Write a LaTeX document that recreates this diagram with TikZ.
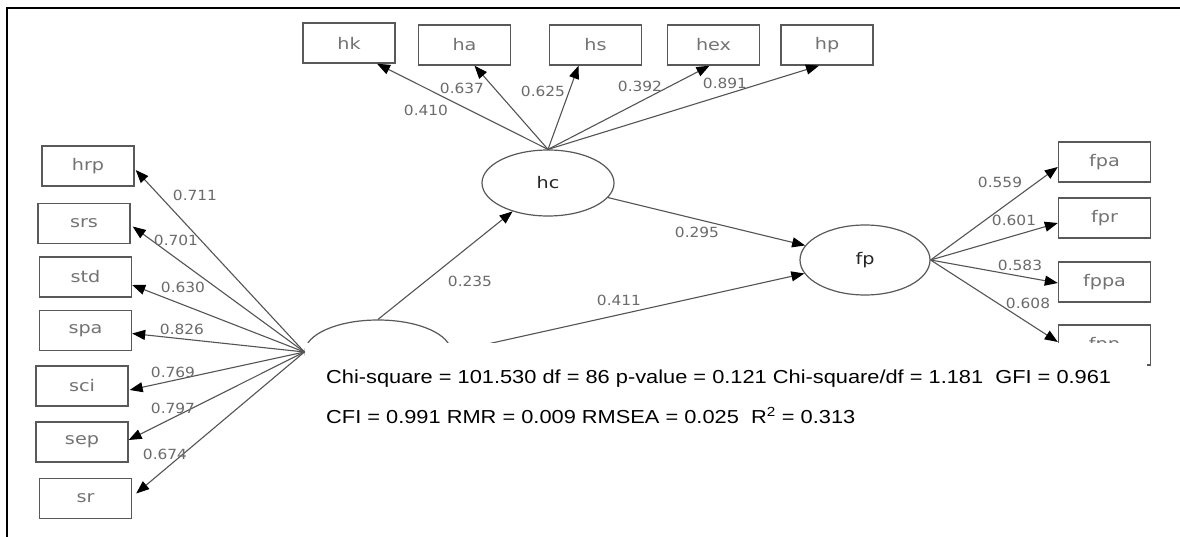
\documentclass[tikz,border=0pt]{standalone}
\usepackage{graphicx}
\usepackage{fontspec}
\setmainfont{DejaVu Sans}
\newfontfamily\statfont{Liberation Sans}
\usetikzlibrary{arrows.meta,shapes.geometric,calc}

\definecolor{boxgray}{gray}{0.35}
\definecolor{labgray}{gray}{0.45}
\definecolor{numgray}{gray}{0.42}
\definecolor{linegray}{gray}{0.33}

\newcommand\boxtxt[1]{\scalebox{1.2}[1]{#1}}
\newcommand\numtxt[1]{\scalebox{1.1}[1]{#1}}
\newcommand\stattxt[1]{\scalebox{1.16}[1]{#1}}

\begin{document}
\begin{tikzpicture}[x=1pt,y=-1pt,
  obs/.style={draw=boxgray,line width=1.4pt,minimum width=92pt,minimum height=40pt,
    inner sep=0pt,text=labgray,font=\fontsize{16}{16}\selectfont},
  latent/.style={ellipse,draw=boxgray,line width=1.2pt,inner sep=0pt,
    text=black!85,font=\fontsize{16}{16}\selectfont},
  conn/.style={draw=linegray,line width=1.1pt,
    -{Triangle[length=13pt,width=10pt,color=black]}},
  coef/.style={text=numgray,inner sep=0pt,font=\fontsize{14}{14}\selectfont},
  stat/.style={anchor=base west,inner sep=0pt,text=black,
    font=\statfont\fontsize{18.8}{18.8}\selectfont}]

\useasboundingbox (0,0) rectangle (1180,537);
\fill[white] (0,0) rectangle (1180,537);

% outer frame
\draw[line width=2.2pt] (7,537) -- (7,8) -- (1180,8);

% indicators of hc
\node[obs] (hk)  at (349,43)   {\boxtxt{hk}};
\node[obs] (ha)  at (464.5,45) {\boxtxt{ha}};
\node[obs] (hs)  at (595.5,45) {\boxtxt{hs}};
\node[obs] (hex) at (713.5,45) {\boxtxt{hex}};
\node[obs] (hp)  at (827,45)   {\boxtxt{hp}};

% indicators of the exogenous factor
\node[obs] (hrp) at (88,166)    {\boxtxt{hrp}};
\node[obs] (srs) at (84,223.5)  {\boxtxt{srs}};
\node[obs] (std) at (85.5,277)  {\boxtxt{std}};
\node[obs] (spa) at (85.5,330.5){\boxtxt{spa}};
\node[obs] (sci) at (82,386)    {\boxtxt{sci}};
\node[obs] (sep) at (82,442)    {\boxtxt{sep}};
\node[obs] (sr)  at (85.5,498.5){\boxtxt{sr}};

% indicators of fp
\node[obs] (fpa)  at (1104.5,162) {\boxtxt{fpa}};
\node[obs] (fpr)  at (1104.5,218) {\boxtxt{fpr}};
\node[obs] (fppa) at (1104.5,282) {\boxtxt{fppa}};
\node[obs] (fpp)  at (1104.5,345) {\boxtxt{fpp}};

% latent variables
\node[latent,minimum width=132pt,minimum height=66pt] (hc) at (548,183) {\boxtxt{hc}};
\node[latent,minimum width=130pt,minimum height=70pt] (fp) at (865,260) {\boxtxt{fp}};
\node[latent,minimum width=146pt,minimum height=64pt] (lat) at (378,352) {};

% loadings of hc
\draw[conn] (hc.north) -- ($(hk.south)+(28,0)$);
\draw[conn] (hc.north) -- ($(ha.south)+(10,0)$);
\draw[conn] (hc.north) -- ($(hs.south)+(-17,0)$);
\draw[conn] (hc.north) -- ($(hex.south)+(-4,0)$);
\draw[conn] (hc.north) -- ($(hp.south)+(-8,0)$);

% loadings of the exogenous factor
\draw[conn] (lat.west) -- ($(hrp.east)+(1,4)$);
\draw[conn] (lat.west) -- ($(srs.east)+(2,3)$);
\draw[conn] (lat.west) -- ($(std.east)+(0,8)$);
\draw[conn] (lat.west) -- ($(spa.east)+(0,3)$);
\draw[conn] (lat.west) -- ($(sci.east)+(1,4)$);
\draw[conn] (lat.west) -- ($(sep.east)+(0,-2)$);
\draw[conn] (lat.west) -- ($(sr.east)+(4,-5)$);

% loadings of fp
\draw[conn] (fp.east) -- ($(fpa.west)+(0,5)$);
\draw[conn] (fp.east) -- ($(fpr.west)+(0,5)$);
\draw[conn] (fp.east) -- ($(fppa.west)+(0,1)$);
\draw[conn] (fp.east) -- ($(fpp.west)+(0,-3)$);

% structural paths
\draw[conn] (lat.north) -- (hc);
\draw[conn] (hc) -- (fp);
\draw[conn] (lat.east) -- (fp);

% coefficients
\node[coef] at (426,110) {\numtxt{0.410}};
\node[coef] at (462,88)  {\numtxt{0.637}};
\node[coef] at (543,91)  {\numtxt{0.625}};
\node[coef] at (640,86)  {\numtxt{0.392}};
\node[coef] at (725,83)  {\numtxt{0.891}};

\node[coef] at (697,232) {\numtxt{0.295}};
\node[coef] at (470,281) {\numtxt{0.235}};
\node[coef] at (619,300) {\numtxt{0.411}};

\node[coef] at (1000,182) {\numtxt{0.559}};
\node[coef] at (1014,220) {\numtxt{0.601}};
\node[coef] at (1020,265) {\numtxt{0.583}};
\node[coef] at (1028,303) {\numtxt{0.608}};

\node[coef] at (195,195) {\numtxt{0.711}};
\node[coef] at (176,240) {\numtxt{0.701}};
\node[coef] at (183,287) {\numtxt{0.630}};
\node[coef] at (182,329) {\numtxt{0.826}};
\node[coef] at (173,372) {\numtxt{0.769}};
\node[coef] at (173,408) {\numtxt{0.797}};
\node[coef] at (165,454) {\numtxt{0.674}};

% fit statistics panel
\fill[white] (305,343) rectangle (1147,537);
\node[stat] (fit1) at (326,383)
  {\stattxt{Chi-square = 101.530 df = 86 p-value = 0.121 Chi-square/df = 1.181 \ GFI = 0.961}};
\node[stat] (fit2) at (326,423)
  {\stattxt{CFI = 0.991 RMR = 0.009 RMSEA = 0.025 \ R\textsuperscript{2} = 0.313}};

\end{tikzpicture}
\end{document}
